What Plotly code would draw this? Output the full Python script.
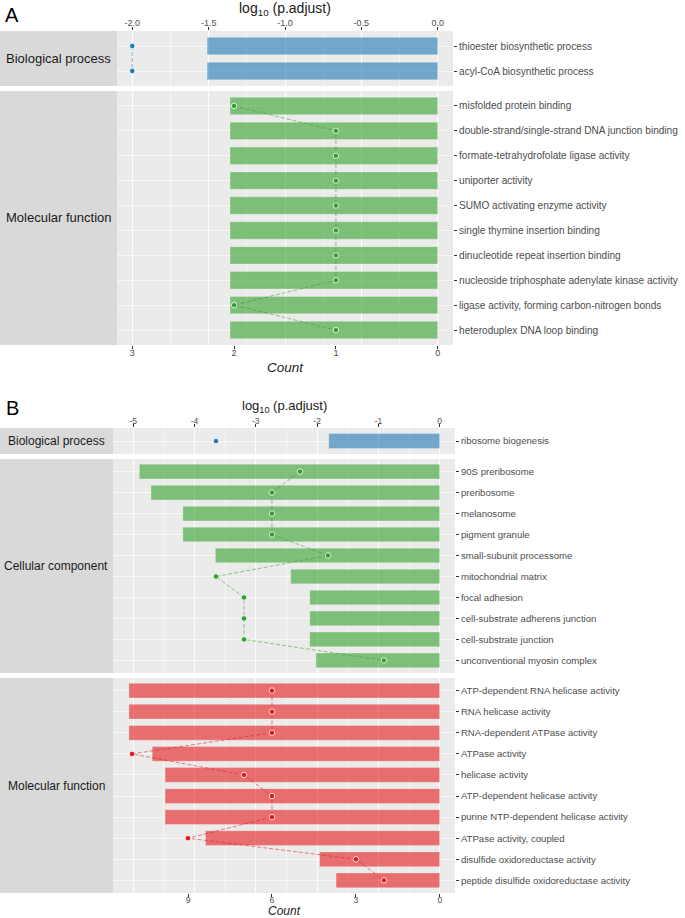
import plotly.graph_objects as go

# ---- panel A data ----
a_bp_terms = ["thioester biosynthetic process", "acyl-CoA biosynthetic process"]
a_bp_logp = [-1.51, -1.51]
a_bp_count = [3, 3]

a_mf_terms = ["misfolded protein binding",
              "double-strand/single-strand DNA junction binding",
              "formate-tetrahydrofolate ligase activity",
              "uniporter activity",
              "SUMO activating enzyme activity",
              "single thymine insertion binding",
              "dinucleotide repeat insertion binding",
              "nucleoside triphosphate adenylate kinase activity",
              "ligase activity, forming carbon-nitrogen bonds",
              "heteroduplex DNA loop binding"]
a_mf_logp = [-1.36, -1.36, -1.36, -1.36, -1.36, -1.36, -1.36, -1.36, -1.36, -1.36]
a_mf_count = [2, 1, 1, 1, 1, 1, 1, 1, 2, 1]

a_log_ticks = [-2.0, -1.5, -1.0, -0.5, 0.0]
a_log_labels = ["-2.0", "-1.5", "-1.0", "-0.5", "0.0"]
a_count_ticks = [3, 2, 1, 0]

# ---- panel B data ----
b_bp_terms = ["ribosome biogenesis"]
b_bp_logp = [-1.81]
b_bp_count = [8]

b_cc_terms = ["90S preribosome", "preribosome", "melanosome", "pigment granule",
              "small-subunit processome", "mitochondrial matrix", "focal adhesion",
              "cell-substrate adherens junction", "cell-substrate junction",
              "unconventional myosin complex"]
b_cc_logp = [-4.90, -4.71, -4.19, -4.19, -3.66, -2.43, -2.12, -2.12, -2.12, -2.02]
b_cc_count = [5, 6, 6, 6, 4, 8, 7, 7, 7, 2]

b_mf_terms = ["ATP-dependent RNA helicase activity", "RNA helicase activity",
              "RNA-dependent ATPase activity", "ATPase activity", "helicase activity",
              "ATP-dependent helicase activity", "purine NTP-dependent helicase activity",
              "ATPase activity, coupled", "disulfide oxidoreductase activity",
              "peptide disulfide oxidoreductase activity"]
b_mf_logp = [-5.07, -5.07, -5.07, -4.69, -4.48, -4.48, -4.48, -3.82, -1.96, -1.69]
b_mf_count = [6, 6, 6, 11, 7, 6, 6, 9, 3, 2]

b_log_ticks = [-5, -4, -3, -2, -1, 0]
b_log_labels = ["-5", "-4", "-3", "-2", "-1", "0"]
b_count_ticks = [9, 6, 3, 0]

W, H = 685, 918

BAR = {"bp": "rgba(31,120,180,0.6)", "mf_a": "rgba(51,160,44,0.6)",
       "cc": "rgba(51,160,44,0.6)", "mf_b": "rgba(227,26,28,0.6)"}
PT = {"bp": "rgb(31,120,180)", "mf_a": "rgb(51,160,44)",
      "cc": "rgb(51,160,44)", "mf_b": "rgb(227,26,28)"}
LN = {"bp": "rgba(31,120,180,0.55)", "mf_a": "rgba(51,160,44,0.55)",
      "cc": "rgba(51,160,44,0.55)", "mf_b": "rgba(227,26,28,0.55)"}


def px_x(p):
    return p / W


def px_y(p):
    return 1 - p / H


fig = go.Figure()
layout = {}
annotations = []
shapes = []

# one dict per facet row; top/bot are pixel rows of the panel
panels = [
    dict(terms=a_bp_terms, logp=a_bp_logp, count=a_bp_count, col="bp",
         strip="Biological process", top=31, bot=86, grp="A"),
    dict(terms=a_mf_terms, logp=a_mf_logp, count=a_mf_count, col="mf_a",
         strip="Molecular function", top=91, bot=345, grp="A"),
    dict(terms=b_bp_terms, logp=b_bp_logp, count=b_bp_count, col="bp",
         strip="Biological process", top=428, bot=454, grp="B"),
    dict(terms=b_cc_terms, logp=b_cc_logp, count=b_cc_count, col="cc",
         strip="Cellular component", top=459, bot=673, grp="B"),
    dict(terms=b_mf_terms, logp=b_mf_logp, count=b_mf_count, col="mf_b",
         strip="Molecular function", top=678, bot=893, grp="B"),
]

grp = {
    "A": dict(x0=117, x1=453, logr=[-2.1, 0.1], cntr=[3.15, -0.15],
              lticks=a_log_ticks, llabels=a_log_labels, ldt=0.25,
              cticks=a_count_ticks, yfont=10.1, sfont=13, tfont=9),
    "B": dict(x0=113, x1=455, logr=[-5.33, 0.25], cntr=[11.68, -0.54],
              lticks=b_log_ticks, llabels=b_log_labels, ldt=0.5,
              cticks=b_count_ticks, yfont=9.6, sfont=12, tfont=8.5),
}

first_in_grp = {"A": 0, "B": 2}
last_in_grp = {"A": 1, "B": 4}

n = len(panels)
for i, p in enumerate(panels):
    g = grp[p["grp"]]
    lx = i + 1            # log axis
    cx = i + 1 + n        # count axis (overlaid)
    yi = i + 1
    lname = "xaxis" if lx == 1 else "xaxis%d" % lx
    cname = "xaxis%d" % cx
    yname = "yaxis" if yi == 1 else "yaxis%d" % yi
    lref = "x" if lx == 1 else "x%d" % lx
    cref = "x%d" % cx
    yref = "y" if yi == 1 else "y%d" % yi
    dom_x = [px_x(g["x0"]), px_x(g["x1"])]
    dom_y = [px_y(p["bot"]), px_y(p["top"])]
    top_panel = i == first_in_grp[p["grp"]]
    bot_panel = i == last_in_grp[p["grp"]]

    fig.add_trace(go.Bar(
        x=p["logp"], y=p["terms"], orientation="h", width=0.7,
        marker=dict(color=BAR[p["col"]], line=dict(color="rgba(255,255,255,0.45)", width=0.6)),
        xaxis=lref, yaxis=yref, showlegend=False, hoverinfo="x+y"))
    fig.add_trace(go.Scatter(
        x=p["count"], y=p["terms"], mode="lines+markers",
        line=dict(color=LN[p["col"]], width=1, dash="4px,2px"),
        marker=dict(color=PT[p["col"]], size=5.5, line=dict(color="rgba(255,255,255,0.8)", width=1)),
        xaxis=cref, yaxis=yref, showlegend=False))

    layout[lname] = dict(
        domain=dom_x, anchor=yref, range=g["logr"], side="top",
        tickvals=g["lticks"], ticktext=g["llabels"], showticklabels=top_panel,
        ticks="outside" if top_panel else "", ticklen=3, tickcolor="#333333",
        ticklabelstandoff=-3,
        tickfont=dict(size=g["tfont"], color="#4D4D4D"),
        showgrid=True, gridcolor="rgba(255,255,255,0.9)", gridwidth=1,
        minor=dict(dtick=g["ldt"], tick0=0, showgrid=True,
                   gridcolor="rgba(255,255,255,0.5)", gridwidth=0.5),
        zeroline=False, showline=False, fixedrange=True)
    if i > 0:
        layout[lname]["matches"] = "x" if p["grp"] == "A" else "x3"
    layout[cname] = dict(
        overlaying=lref, anchor=yref, side="bottom", range=g["cntr"],
        tickvals=g["cticks"], showticklabels=bot_panel,
        ticks="outside" if bot_panel else "", ticklen=3, tickcolor="#333333",
        ticklabelstandoff=-4,
        tickfont=dict(size=g["tfont"], color="#4D4D4D"),
        showgrid=False, zeroline=False, showline=False, fixedrange=True)
    nt = len(p["terms"])
    layout[yname] = dict(
        domain=dom_y, anchor=lref, type="category",
        categoryorder="array", categoryarray=p["terms"],
        range=[nt - 0.4, -0.6], side="right",
        ticks="outside", ticklen=3, tickcolor="#333333",
        tickfont=dict(size=g["yfont"], color="#4D4D4D"),
        showgrid=True, gridcolor="rgba(255,255,255,0.6)", gridwidth=1,
        zeroline=False, showline=False, fixedrange=True)

    # strip on the left
    shapes.append(dict(type="rect", xref="paper", yref="paper",
                       x0=0, x1=px_x(g["x0"]), y0=dom_y[0], y1=dom_y[1],
                       fillcolor="#D9D9D9", line=dict(width=0), layer="below"))
    annotations.append(dict(text=p["strip"], xref="paper", yref="paper",
                            x=px_x(g["x0"] / 2), y=(dom_y[0] + dom_y[1]) / 2,
                            showarrow=False, xanchor="center", yanchor="middle",
                            font=dict(size=g["sfont"], color="#1A1A1A")))

# letter, letter x/y, title x/y, title size, count y, count size
title_specs = [
    ("A", 12, 15, 285, 9, 14, 367, 13.5),
    ("B", 12, 408, 284, 406, 13, 911, 12),
]
for letter, lx_, ly_, tx, ty, tsz, cy, csz in title_specs:
    annotations.append(dict(text=letter, xref="paper", yref="paper",
                            x=px_x(lx_), y=px_y(ly_), showarrow=False,
                            xanchor="center", yanchor="middle",
                            font=dict(size=20, color="#000000")))
    annotations.append(dict(text="log<sub>10</sub> (p.adjust)", xref="paper", yref="paper",
                            x=px_x(tx), y=px_y(ty), showarrow=False,
                            xanchor="center", yanchor="middle",
                            font=dict(size=tsz, color="#1A1A1A")))
    annotations.append(dict(text="<i>Count</i>", xref="paper", yref="paper",
                            x=px_x(tx), y=px_y(cy), showarrow=False,
                            xanchor="center", yanchor="middle",
                            font=dict(size=csz, color="#1A1A1A")))

fig.update_layout(
    width=W, height=H, margin=dict(l=0, r=0, t=0, b=0),
    paper_bgcolor="white", plot_bgcolor="#EBEBEB",
    font=dict(family="Liberation Sans, Arial, sans-serif"),
    barmode="overlay", annotations=annotations, shapes=shapes,
    **layout)

# page body has a default 8px margin, drop it so the figure sits at 0,0
fig.write_html("out.html", config={"displayModeBar": False},
               post_script="document.body.style.margin='0';")
